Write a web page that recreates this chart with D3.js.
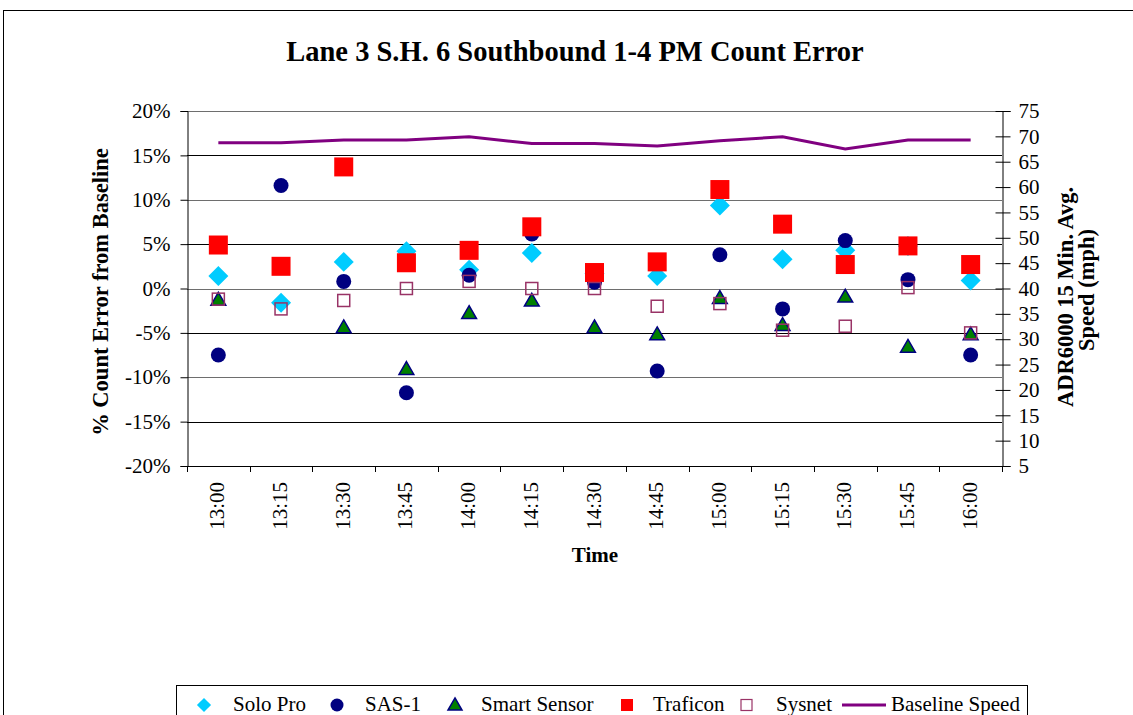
<!DOCTYPE html>
<html>
<head>
<meta charset="utf-8">
<script src="https://cdn.jsdelivr.net/npm/d3@7"></script>
<style>
  html, body { margin: 0; padding: 0; background: #fff; }
  svg { display: block; font-family: "Liberation Serif", "Times New Roman", serif; }
  svg text { font-family: "Liberation Serif", "Times New Roman", serif; fill: #000; }
</style>
</head>
<body>
<svg id="chart" width="1133" height="715"></svg>
<script>
const times = ["13:00","13:15","13:30","13:45","14:00","14:15","14:30","14:45","15:00","15:15","15:30","15:45","16:00"];
const soloPro     = [1.4, -1.6, 3.0, 4.2, 2.1, 4.0, 1.7, 1.4, 9.35, 3.3, 4.3, 4.8, 0.9];
const sas1        = [-7.5, 11.6, 0.8, -11.75, 1.5, 6.15, 0.7, -9.3, 3.8, -2.3, 5.4, 1.0, -7.5];
const smartSensor = [-1.4, null, -4.5, -9.2, -2.9, -1.5, -4.5, -5.3, -1.2, -4.25, -1.05, -6.7, -5.3];
const traficon    = [4.9, 2.5, 13.7, 2.9, 4.3, 6.95, 1.8, 3.0, 11.15, 7.25, 2.7, 4.8, 2.7];
const sysnet      = [-1.2, -2.3, -1.35, 0.0, 0.8, 0.0, 0.0, -2.0, -1.7, -4.7, -4.25, 0.1, -5.0];
const baselineSpeed = [68.75, 68.75, 69.3, 69.3, 69.9, 68.6, 68.6, 68.1, 69.15, 69.9, 67.5, 69.3, 69.3];
const leftTicks = [-20, -15, -10, -5, 0, 5, 10, 15, 20];
const leftTickLabels = ["-20%","-15%","-10%","-5%","0%","5%","10%","15%","20%"];
const rightTicks = [5,10,15,20,25,30,35,40,45,50,55,60,65,70,75];

const svg = d3.select("#chart");
const L = 187, R = 1002, T = 111, B = 466;

// outer border
svg.append("rect").attr("x", 3.5).attr("y", 10.5).attr("width", 1140).attr("height", 720)
  .attr("fill", "none").attr("stroke", "#000").attr("stroke-width", 1);

const x = d3.scaleBand().domain(times).range([L, R]);
const y = d3.scaleLinear().domain([-20, 20]).range([B, T]);
const y2 = d3.scaleLinear().domain([5, 75]).range([B, T]);

// gridlines
svg.append("g").selectAll("line").data(leftTicks).join("line")
  .attr("x1", L).attr("x2", R)
  .attr("y1", d => Math.round(y(d)) + 0.5).attr("y2", d => Math.round(y(d)) + 0.5)
  .attr("stroke", (d, i) => i % 2 === 0 ? "#6e6e6e" : "#000")
  .attr("stroke-width", 1);

// left axis
const fmtMap = new Map(leftTicks.map((t, i) => [t, leftTickLabels[i]]));
const gL = svg.append("g").attr("transform", `translate(${L + 0.5},0)`)
  .call(d3.axisLeft(y).tickValues(leftTicks).tickFormat(d => fmtMap.get(d)).tickSize(7).tickPadding(10));
gL.select(".domain").attr("stroke", "#000");
gL.selectAll(".tick line").attr("stroke", "#000");
gL.selectAll("text").attr("font-size", 21).attr("font-family", "Liberation Serif").attr("fill", "#000");

// right axis
const gR = svg.append("g").attr("transform", `translate(${R + 0.5},0)`)
  .call(d3.axisRight(y2).tickValues(rightTicks).tickSize(8).tickPadding(8));
gR.select(".domain").attr("stroke", "#000");
gR.selectAll(".tick line").attr("x1", -7).attr("stroke", "#000");
gR.selectAll("text").attr("font-size", 21).attr("font-family", "Liberation Serif").attr("fill", "#000");

// bottom axis
svg.append("line").attr("x1", L).attr("x2", R).attr("y1", B + 0.5).attr("y2", B + 0.5).attr("stroke", "#000");
const edges = times.map(t => x(t)).concat([R]);
svg.append("g").selectAll("line").data(edges).join("line")
  .attr("x1", d => Math.round(d) + 0.5).attr("x2", d => Math.round(d) + 0.5)
  .attr("y1", B).attr("y2", B + 6).attr("stroke", "#000");
svg.append("g").selectAll("text").data(times).join("text")
  .attr("transform", d => `translate(${x(d) + x.bandwidth() / 2 + 6},${B + 16}) rotate(-90)`)
  .attr("text-anchor", "end").attr("font-size", 21).text(d => d);

// titles
svg.append("text").attr("x", 575).attr("y", 61).attr("text-anchor", "middle")
  .attr("font-size", 28.5).attr("font-weight", "bold").text("Lane 3 S.H. 6 Southbound 1-4 PM Count Error");
svg.append("text").attr("transform", `translate(108,292) rotate(-90)`)
  .attr("text-anchor", "middle").attr("font-size", 22.5).attr("font-weight", "bold").text("% Count Error from Baseline");
svg.append("text").attr("transform", `translate(1073,297) rotate(-90)`)
  .attr("text-anchor", "middle").attr("font-size", 22.5).attr("font-weight", "bold").text("ADR6000 15 Min. Avg.");
svg.append("text").attr("transform", `translate(1094,290) rotate(-90)`)
  .attr("text-anchor", "middle").attr("font-size", 22.5).attr("font-weight", "bold").text("Speed (mph)");
svg.append("text").attr("x", 595).attr("y", 562).attr("text-anchor", "middle")
  .attr("font-size", 21).attr("font-weight", "bold").text("Time");

// baseline speed line
const cx = d => x(d) + x.bandwidth() / 2;
svg.append("path").datum(times.map((t, i) => [t, baselineSpeed[i]]))
  .attr("fill", "none").attr("stroke", "#800080").attr("stroke-width", 3)
  .attr("d", d3.line().x(d => cx(d[0])).y(d => y2(d[1])));

// markers
function pts(arr) { return times.map((t, i) => ({ t, v: arr[i] })).filter(d => d.v !== null); }
const gMarks = svg.append("g");
// Solo Pro diamonds
gMarks.append("g").selectAll("path").data(pts(soloPro)).join("path")
  .attr("transform", d => `translate(${cx(d.t)},${y(d.v)}) rotate(45)`)
  .attr("d", d3.symbol().type(d3.symbolSquare).size(200)).attr("fill", "#00CCFF");
// SAS-1 circles
gMarks.append("g").selectAll("circle").data(pts(sas1)).join("circle")
  .attr("cx", d => cx(d.t)).attr("cy", d => y(d.v)).attr("r", 7.5).attr("fill", "#000080");
// Smart Sensor triangles
gMarks.append("g").selectAll("path").data(pts(smartSensor)).join("path")
  .attr("transform", d => `translate(${cx(d.t)},${y(d.v)})`)
  .attr("d", d3.symbol().type(d3.symbolTriangle).size(95)).attr("fill", "#008000")
  .attr("stroke", "#000080").attr("stroke-width", 1.5);
// Traficon squares
gMarks.append("g").selectAll("rect").data(pts(traficon)).join("rect")
  .attr("x", d => cx(d.t) - 9.5).attr("y", d => y(d.v) - 9.5).attr("width", 19).attr("height", 19)
  .attr("fill", "#FF0000");
// Sysnet hollow squares
gMarks.append("g").selectAll("rect").data(pts(sysnet)).join("rect")
  .attr("x", d => cx(d.t) - 6).attr("y", d => y(d.v) - 6).attr("width", 12).attr("height", 12)
  .attr("fill", "none").attr("stroke", "#993366").attr("stroke-width", 1.5);

// legend
const lg = svg.append("g");
lg.append("rect").attr("x", 176.5).attr("y", 685.5).attr("width", 851).attr("height", 40)
  .attr("fill", "#fff").attr("stroke", "#000");
const ly = 705;
lg.append("path").attr("transform", `translate(204,${ly}) rotate(45)`)
  .attr("d", d3.symbol().type(d3.symbolSquare).size(100)).attr("fill", "#00CCFF");
lg.append("circle").attr("cx", 337).attr("cy", ly).attr("r", 6.5).attr("fill", "#000080");
lg.append("path").attr("transform", `translate(455,${ly + 1})`)
  .attr("d", d3.symbol().type(d3.symbolTriangle).size(85))
  .attr("fill", "#008000").attr("stroke", "#000080").attr("stroke-width", 1.5);
lg.append("rect").attr("x", 621).attr("y", ly - 6).attr("width", 12).attr("height", 12).attr("fill", "#FF0000");
lg.append("rect").attr("x", 741).attr("y", ly - 5.5).attr("width", 11).attr("height", 11)
  .attr("fill", "none").attr("stroke", "#993366").attr("stroke-width", 1.2);
lg.append("line").attr("x1", 842).attr("x2", 886).attr("y1", ly).attr("y2", ly)
  .attr("stroke", "#800080").attr("stroke-width", 3);
const legendLabels = [["Solo Pro", 233], ["SAS-1", 365], ["Smart Sensor", 481], ["Traficon", 653], ["Sysnet", 776], ["Baseline Speed", 891]];
lg.selectAll("text").data(legendLabels).join("text")
  .attr("x", d => d[1]).attr("y", 711).attr("font-size", 21).text(d => d[0]);
</script>
</body>
</html>
